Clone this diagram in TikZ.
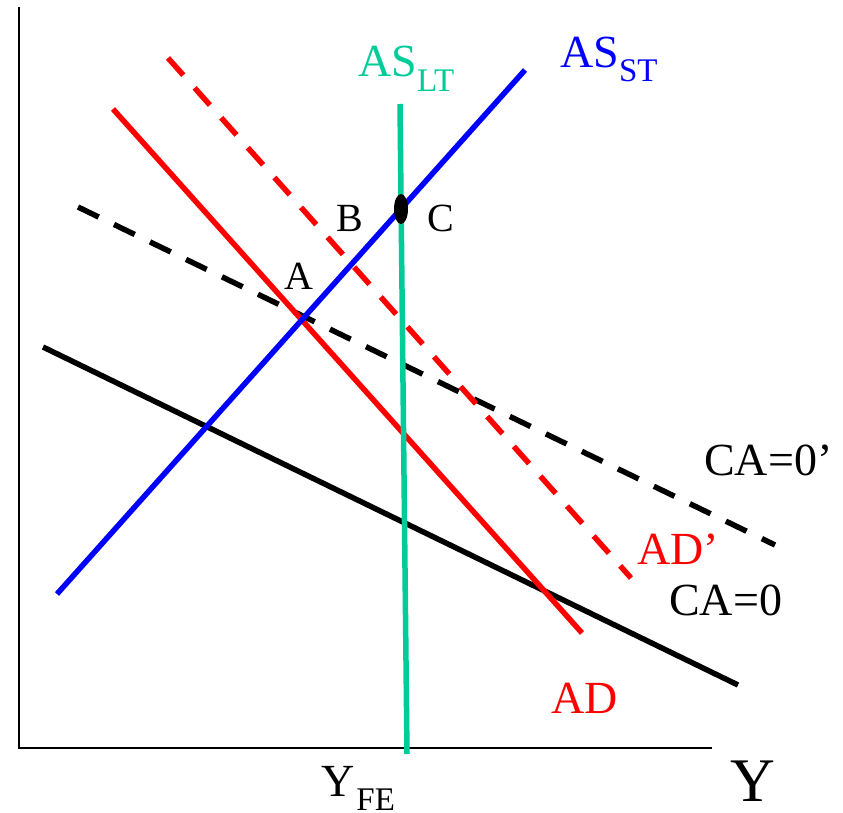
\documentclass[tikz,border=0pt]{standalone}
\usepackage{fontspec}
\setmainfont{Liberation Serif}
\usetikzlibrary{shapes.geometric}
\definecolor{asgreen}{RGB}{0,204,153}
\definecolor{asblue}{RGB}{0,0,255}
\definecolor{adred}{RGB}{255,0,0}
\newcommand{\bigtxt}{\fontsize{46bp}{50bp}\selectfont}
\newcommand{\midtxt}{\fontsize{40bp}{44bp}\selectfont}
\newcommand{\hugetxt}{\fontsize{62bp}{66bp}\selectfont}
\newcommand{\subtxt}[1]{\raisebox{-14bp}{\fontsize{33bp}{35bp}\selectfont #1}}
\begin{document}
\begin{tikzpicture}[x=1bp,y=-1bp,
  axisline/.style={line width=2bp,black},
  curve/.style={line width=5.5bp,line cap=butt},
  dashline/.style={curve,dash pattern=on 23bp off 17bp},
  lbl/.style={inner sep=0pt,anchor=base west}]
\useasboundingbox (0,0) rectangle (843,813);
% axes
\coordinate (o) at (19,748);
\coordinate (ytop) at (19,7);
\coordinate (xend) at (712,748);
\draw[axisline] (ytop) -- (o) -- (xend);
% curve end points
\coordinate (cas1) at (43,347);  \coordinate (cas2) at (738,685);
\coordinate (cad1) at (78,207);  \coordinate (cad2) at (775,545);
\coordinate (ad1) at (113,109);  \coordinate (ad2) at (582,633);
\coordinate (adp1) at (168,58);  \coordinate (adp2) at (631,578);
\coordinate (st1) at (57,594);   \coordinate (st2) at (525,70);
\coordinate (lt1) at (400,104);  \coordinate (lt2) at (407,754);
% curves
\draw[curve,black] (cas1) -- (cas2);
\draw[dashline,black] (cad1) -- (cad2);
\draw[curve,adred] (ad1) -- (ad2);
\draw[dashline,adred] (adp1) -- (adp2);
\draw[curve,asgreen] (lt1) -- (lt2);
\draw[curve,asblue] (st1) -- (st2);
% point C
\node[draw=none,fill=black,ellipse,minimum width=14bp,minimum height=30bp,inner sep=0pt] (ptc) at (401,209) {};
% labels
\node[lbl,text=asgreen] (lasl) at (358,77) {\bigtxt AS\subtxt{LT}};
\node[lbl,text=asblue] (lass) at (560,68) {\bigtxt AS\subtxt{ST}};
\node[lbl] (lb) at (336,231) {\midtxt B};
\node[lbl] (lc) at (427,231) {\midtxt C};
\node[lbl] (la) at (284,289) {\midtxt A};
\node[lbl] (lcap) at (704,475) {\bigtxt CA=0’};
\node[lbl,text=adred] (ladp) at (637,564) {\bigtxt AD’};
\node[lbl] (lca) at (669,615) {\bigtxt CA=0};
\node[lbl,text=adred] (lad) at (551,713) {\bigtxt AD};
\node[lbl] (lyfe) at (321,796) {\bigtxt Y\hspace{2bp}\subtxt{FE}};
\node[lbl] (ly) at (730,801) {\hugetxt Y};
\end{tikzpicture}
\end{document}
